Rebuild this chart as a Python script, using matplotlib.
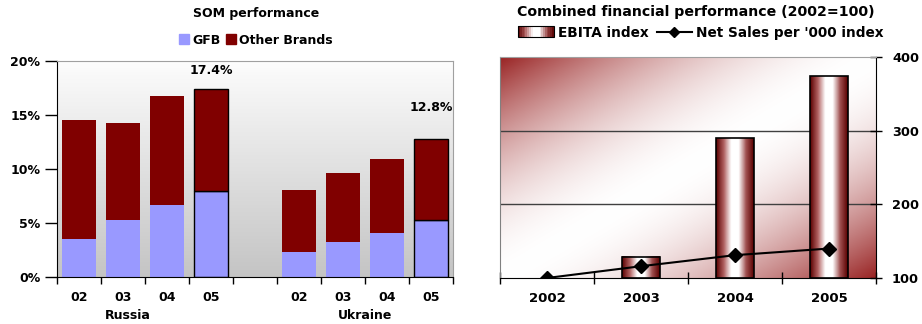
import numpy as np
import matplotlib
matplotlib.use("Agg")
import matplotlib.pyplot as plt
from matplotlib.patches import Rectangle, Patch
from matplotlib.legend_handler import HandlerBase
from matplotlib.lines import Line2D
from matplotlib.colors import LinearSegmentedColormap

plt.rcParams['font.family'] = ['DejaVu Sans']
plt.rcParams['font.weight'] = 'bold'
plt.rcParams['font.size'] = 9

# SOM performance data (share of market, %)
som_ticks = ["02", "03", "04", "05", "", "02", "03", "04", "05"]
gfb = [3.5, 5.3, 6.7, 8.0, np.nan, 2.3, 3.2, 4.1, 5.3]
som_total = [14.5, 14.3, 16.8, 17.4, np.nan, 8.1, 9.6, 10.9, 12.8]
other = [t - g for t, g in zip(som_total, gfb)]
countries = ["Russia", "Ukraine"]

# Combined financial performance (2002=100)
years = ["2002", "2003", "2004", "2005"]
ebita = [100, 129, 290, 374]
net_sales = [100, 116, 131, 140]

W, H = 922, 324
fig = plt.figure(figsize=(W / 100, H / 100), dpi=100)

# ---------------- left chart ----------------
ax1 = fig.add_axes([57 / W, 1 - 277 / H, (453 - 57) / W, (277 - 61) / H])
grey = np.linspace(0.99, 0.77, 100).reshape(-1, 1)
ax1.imshow(np.dstack([grey, grey, grey]), extent=[0, 1, 0, 1], transform=ax1.transAxes,
           aspect='auto', zorder=0)
x = np.arange(len(som_ticks))
edges = ['none', 'none', 'none', 'black', 'none', 'none', 'none', 'none', 'black']
ax1.bar(x, gfb, width=0.77, color='#9999ff', edgecolor=edges, linewidth=1, zorder=2)
ax1.bar(x, other, bottom=gfb, width=0.77, color='#800000', edgecolor=edges, linewidth=1, zorder=2)
ax1.text(3, som_total[3] + 1.1, "17.4%", ha='center', va='bottom')
ax1.text(8, som_total[8] + 2.3, "12.8%", ha='center', va='bottom')

ax1.set_xlim(-0.5, 8.5)
ax1.set_ylim(0, 20)
ax1.set_yticks([0, 5, 10, 15, 20])
ax1.set_yticklabels(["0%", "5%", "10%", "15%", "20%"])
ax1.set_xticks(np.arange(-0.5, 9, 1))
ax1.set_xticklabels([])
ax1.set_xticks(x, minor=True)
ax1.set_xticklabels(som_ticks, minor=True)
ax1.tick_params(axis='x', which='minor', length=0, pad=10)
ax1.tick_params(axis='x', which='major', length=5, width=1)
ax1.tick_params(axis='y', length=9, width=1, pad=3)
for s in ['top', 'right']:
    ax1.spines[s].set_color('#a0a0a0')
ax1.text(0.18, -0.18, countries[0], transform=ax1.transAxes, ha='center', va='center')
ax1.text(7.0 / 9, -0.18, countries[1], transform=ax1.transAxes, ha='center', va='center')

fig.text(256 / W, 1 - 14 / H, "SOM performance", ha='center', va='center')
fig.legend(handles=[Patch(color='#9999ff', label='GFB'), Patch(color='#800000', label='Other Brands')],
           loc='center', bbox_to_anchor=(256 / W, 1 - 40 / H), ncol=2, frameon=False,
           handlelength=0.8, handleheight=0.8, handletextpad=0.2, columnspacing=0.5,
           borderaxespad=0)

# ---------------- right chart ----------------
ax2 = fig.add_axes([500 / W, 1 - 278 / H, (876 - 500) / W, (278 - 57) / H])
u = np.linspace(0, 1, 300)[None, :]
v = np.linspace(0, 1, 200)[:, None]
d = np.clip(np.abs(1 - u - v), 0, 1) ** 1.8
dark = np.array([0.60, 0.14, 0.14])
bg = 1 - d[..., None] * (1 - dark)[None, None, :]
ax2.imshow(bg, extent=[0, 1, 0, 1], transform=ax2.transAxes, aspect='auto', zorder=0)

cyl = LinearSegmentedColormap.from_list('cyl', ['#5a0000', '#b06060', '#ffffff', '#ffffff', '#a05050', '#5a0000'])
xs = np.arange(len(years))
bw = 0.4
grad = np.linspace(0, 1, 64).reshape(1, -1)
for xi, val in zip(xs, ebita):
    if val <= 100:
        continue
    ax2.imshow(grad, cmap=cyl, extent=[xi - bw / 2, xi + bw / 2, 100, val], aspect='auto', zorder=2)
    ax2.add_patch(Rectangle((xi - bw / 2, 100), bw, val - 100, fill=False, edgecolor='black',
                            linewidth=1.2, zorder=3))
ax2.plot(xs, net_sales, color='black', marker='D', markersize=7, linewidth=1.5, zorder=4)

ax2.set_xlim(-0.5, 3.5)
ax2.set_ylim(100, 400)
ax2.set_yticks([100, 200, 300, 400])
ax2.yaxis.tick_right()
ax2.tick_params(axis='y', direction='inout', length=9, width=1, pad=7, labelsize=9.3)
for yy in [200, 300]:
    ax2.axhline(yy, color='#404040', linewidth=1, zorder=1)
ax2.set_xticks(np.arange(-0.5, 4, 1))
ax2.set_xticklabels([])
ax2.set_xticks(xs, minor=True)
ax2.set_xticklabels(years, minor=True)
ax2.tick_params(axis='x', which='minor', length=0, pad=10, labelsize=9.5)
ax2.tick_params(axis='x', which='major', direction='inout', length=8, width=1)
ax2.spines['top'].set_color('#a0a0a0')
ax2.spines['left'].set_color('#808080')


class GradHandler(HandlerBase):
    def create_artists(self, legend, orig_handle, xdescent, ydescent, width, height, fontsize, trans):
        n = 20
        arts = []
        for i in range(n):
            c = cyl((i + 0.5) / n)
            arts.append(Rectangle((xdescent + i * width / n, ydescent), width / n, height,
                                  facecolor=c, edgecolor='none', transform=trans))
        arts.append(Rectangle((xdescent, ydescent), width, height, fill=False,
                              edgecolor='black', linewidth=0.8, transform=trans))
        return arts


ebita_handle = Patch(label='EBITA index')
line_handle = Line2D([], [], color='black', marker='D', markersize=5, linewidth=1.5,
                     label="Net Sales per '000 index")
fig.text(696 / W, 1 - 12 / H, "Combined financial performance (2002=100)", ha='center', va='center',
         fontsize=10.2)
fig.legend(handles=[ebita_handle, line_handle], handler_map={Patch: GradHandler()},
           loc='center', bbox_to_anchor=(701 / W, 1 - 33 / H), ncol=2, frameon=False,
           handlelength=2.6, handleheight=0.8, handletextpad=0.3, columnspacing=0.6,
           borderaxespad=0, fontsize=9.8)

fig.savefig("out.png", dpi=100)
